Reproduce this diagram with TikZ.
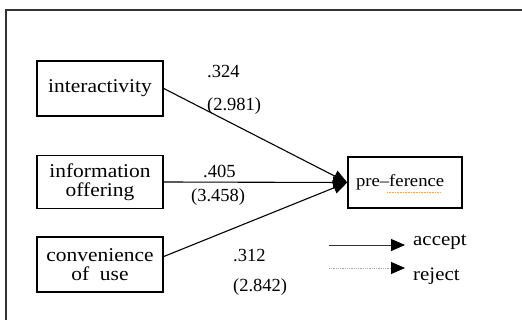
\documentclass[tikz,border=0pt]{standalone}
\usepackage{fontspec}
\setmainfont{Liberation Serif}
\newfontfamily\boxfont[FakeStretch=1.1]{Liberation Serif}
\usetikzlibrary{arrows.meta}
\begin{document}
\begin{tikzpicture}[x=1pt,y=-1pt,
  box/.style={draw=black, line width=1.6pt, inner sep=0pt, align=center,
    font=\boxfont\fontsize{19.5}{19}\selectfont},
  conn/.style={line width=1.1pt, -{Triangle[length=14pt,width=12pt]}},
  lbl/.style={anchor=base west, inner sep=0pt, font=\fontsize{18.5}{19}\selectfont},
  leg/.style={anchor=base west, inner sep=0pt, font=\boxfont\fontsize{19}{19}\selectfont}]
\useasboundingbox (0,0) rectangle (522,320);
% frame
\draw[line width=1.3pt, black!80] (6,321) -- (6,10) -- (523,10);
% boxes
\node[box, minimum width=126pt, minimum height=55pt] (int) at (100,88.5) {interactivity};
\node[box, minimum width=126pt, minimum height=53pt] (inf) at (100,182) {information\\offering};
\node[box, minimum width=126pt, minimum height=55pt] (conv) at (100,264.5) {convenience\\of\ \ use};
\node[box, minimum height=51pt, text width=98pt, inner xsep=8pt, align=left,
  font=\boxfont\fontsize{17}{17}\selectfont] (pref) at (405,182.5) {pre–ference};
\draw[orange!70, densely dotted, line width=0.6pt] (387,192) -- (440,192);
% connectors
\draw[conn] (int.east) -- (pref.west);
\draw[conn] (inf.east) -- (pref.west);
\draw[conn] ([yshift=8pt]conv.east) -- (pref.west);
% labels
\node[lbl] (l1) at (207,78) {.324};
\node[lbl] (l2) at (207,110.5) {(2.981)};
\node[lbl] (l3) at (203,178) {.405};
\node[lbl] (l4) at (191,201.5) {(3.458)};
\node[lbl] (l5) at (233,261.5) {.312};
\node[lbl] (l6) at (233,291.5) {(2.842)};
% legend
\coordinate (a1) at (329,245);
\coordinate (a2) at (405,245);
\coordinate (r1) at (329,268);
\coordinate (r2) at (405,268);
\draw[line width=0.8pt, black!80, -{Triangle[length=14pt,width=12pt,fill=black,color=black]}] (a1) -- (a2);
\draw[line width=0.8pt, black!35, densely dotted, -{Triangle[length=14pt,width=12pt,fill=black,color=black]}] (r1) -- (r2);
\node[leg] (acc) at (413,245.5) {accept};
\node[leg] (rej) at (413,281) {reject};
\end{tikzpicture}
\end{document}
